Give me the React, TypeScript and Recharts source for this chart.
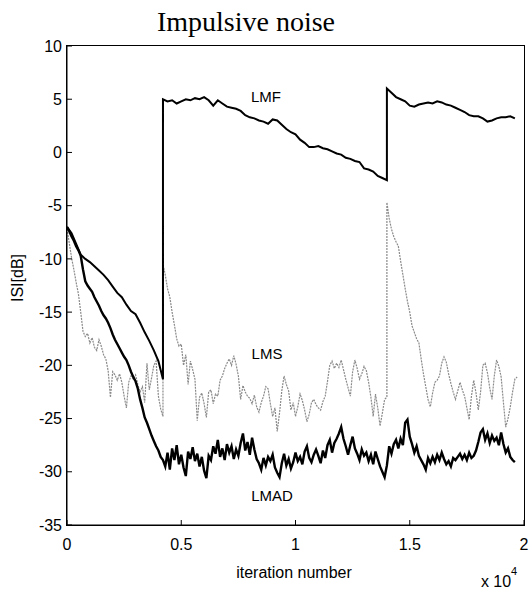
import React from 'react';
import { LineChart, Line, XAxis, YAxis } from 'recharts';

const X_TICKS = [0, 0.5, 1, 1.5, 2];
const Y_TICKS = [-35, -30, -25, -20, -15, -10, -5, 0, 5, 10];

// iteration axis is in units of 10^4

// LMF, one value every 0.02
const LMF_FIRST = [
  -7.0, -7.6, -8.6, -9.6, -10.0, -10.3, -10.7, -11.1, -11.5, -12.0,
  -12.6, -13.2, -13.6, -14.3, -14.9, -15.2, -16.0, -16.9, -17.7, -18.6,
  -19.6, -21.3,
]; // 0 .. 0.42
const LMF_SECOND = [
  5.0, 4.8, 4.9, 4.6, 4.8, 5.0, 4.9, 5.1, 5.0, 5.2,
  4.9, 4.4, 4.9, 4.6, 4.3, 4.2, 4.1, 3.9, 3.5, 3.3,
  3.2, 3.0, 2.9, 2.7, 3.1, 3.0, 2.6, 2.2, 1.9, 1.7,
  1.2, 0.9, 0.5, 0.5, 0.6, 0.4, 0.3, 0.1, -0.1, -0.2,
  -0.5, -0.6, -0.8, -0.9, -1.5, -1.6, -1.8, -2.2, -2.4, -2.6,
]; // 0.42 .. 1.40
const LMF_THIRD = [
  6.0, 5.6, 5.2, 5.0, 4.8, 4.4, 4.3, 4.5, 4.6, 4.7,
  4.6, 4.8, 4.7, 4.5, 4.4, 4.2, 4.0, 3.8, 3.5, 3.4,
  3.4, 3.2, 2.9, 3.0, 3.2, 3.3, 3.3, 3.4, 3.2,
]; // 1.40 .. 1.96

// LMS, one value every 0.01
const LMS_FIRST = [
  -7.2, -8.5, -9.9, -11.0, -12.2, -13.3, -15.0, -16.8, -17.3, -17.0,
  -17.9, -17.4, -18.3, -18.6, -17.6, -18.2, -19.0, -19.4, -20.5, -23.0,
  -20.6, -20.9, -21.4, -20.8, -21.6, -22.9, -24.0, -21.6, -21.0, -21.3,
  -20.9, -21.8, -22.5, -22.0, -23.5, -19.8, -22.3, -21.2, -20.0, -19.6,
  -22.9, -24.1, -24.8,
]; // 0 .. 0.42
const LMS_SECOND = [
  -10.5,
  -11.5, -12.8, -13.6, -15.0, -16.2, -17.5, -18.2,
  -18.0, -20.0, -19.0, -21.8, -19.6, -20.4, -21.3, -25.2, -23.0, -22.6,
  -23.6, -24.9, -22.5, -22.3, -23.6, -22.7, -22.9, -21.4, -21.0, -20.3,
  -19.8, -19.4, -20.0, -19.1, -19.9, -21.0, -23.2, -21.9, -22.5, -22.9,
  -23.1, -23.6, -22.8, -23.9, -24.4, -23.5, -22.9, -22.0, -22.2, -23.6,
  -24.8, -24.0, -26.2, -24.5, -22.4, -21.0, -21.8, -22.4, -24.2, -23.5,
  -24.8, -23.9, -22.7, -23.3, -24.2, -25.3, -24.6, -23.5, -23.2, -23.7,
  -24.0, -24.2, -23.4, -22.9, -21.5, -20.0, -19.6, -20.3, -19.8, -20.2,
  -19.5, -20.4, -21.3, -22.1, -22.9, -20.6, -19.5, -20.3, -21.3, -20.8,
  -20.1, -20.5, -21.6, -23.0, -24.8, -22.7, -24.0, -25.7, -24.5, -23.2,
  -23.0,
]; // 0.42 .. 1.40
const LMS_THIRD = [
  -4.7,
  -6.2, -7.2, -7.9, -8.4, -8.8, -10.2, -11.5, -12.8, -14.0,
  -15.0, -16.3, -16.9, -17.5, -17.9, -19.4, -20.8, -22.0, -23.2, -23.9,
  -22.6, -21.6, -21.4, -21.0, -19.8, -19.2, -19.7, -20.8, -21.7, -22.5,
  -23.2, -22.4, -21.6, -22.3, -22.9, -24.0, -25.1, -22.9, -21.4, -22.6,
  -24.2, -22.5, -20.0, -19.8, -20.7, -22.1, -23.2, -21.0, -19.5, -20.1,
  -21.1, -23.5, -25.8, -25.0, -23.9, -22.5, -21.3, -21.1,
]; // 1.40 .. 1.97

// LMAD, one value every 0.01 from 0
const LMAD = [
  -7.0, -7.4, -7.9, -8.3, -8.8, -9.2, -9.7, -11.0, -12.1, -12.5,
  -12.8, -13.1, -13.6, -14.0, -14.4, -14.9, -15.3, -15.6, -16.0, -16.5,
  -17.1, -17.6, -18.0, -18.4, -18.8, -19.2, -19.5, -20.0, -20.6, -21.1,
  -21.5, -22.2, -23.2, -24.0, -24.9, -25.4, -26.0, -26.6, -27.1, -27.6,
  -28.0, -28.6, -28.9, -29.5, -28.2, -29.8, -27.8, -28.9, -27.5, -29.3,
  -28.4, -29.6, -30.4, -28.1, -28.8, -27.7, -29.0, -28.3, -29.5, -28.6,
  -29.9, -30.6, -28.5, -28.9, -27.6, -28.3, -27.0, -28.6, -27.8, -28.9,
  -27.4, -28.2, -27.6, -28.8, -27.9, -28.5, -27.3, -26.4, -28.0, -27.2,
  -28.4, -26.8, -27.9, -28.8, -29.2, -29.8, -28.7, -29.4, -28.6, -29.0,
  -28.4, -29.6, -30.1, -30.5, -29.2, -28.3, -29.4, -28.8, -29.7, -29.1,
  -28.2, -29.0, -28.6, -29.3, -28.1, -27.6, -28.7, -29.1, -28.4, -27.9,
  -28.5, -29.2, -28.0, -28.7, -27.5, -27.0, -28.2, -27.3, -26.9, -26.4,
  -25.8, -26.9, -27.6, -28.4, -27.5, -26.7, -27.8, -28.3, -28.9, -27.9,
  -28.5, -28.2, -29.0, -28.4, -29.3, -28.1, -28.8, -29.5, -30.0, -30.5,
  -29.4, -27.6, -28.3, -27.4, -27.0, -27.8, -26.9, -27.5, -25.4, -25.1,
  -26.7, -27.4, -28.2, -27.6, -28.5, -28.9, -29.3, -29.8, -28.7, -29.2,
  -28.6, -29.1, -28.4, -28.9, -28.2, -28.8, -29.3, -29.0, -29.5, -28.7,
  -28.9, -28.6, -28.3, -28.8, -28.4, -28.9, -28.2, -28.7, -28.5, -28.0,
  -27.2, -26.3, -26.0, -27.0, -26.4, -27.3, -26.6, -27.1, -26.8, -27.5,
  -26.3, -27.4, -28.2, -27.8, -28.6, -28.9, -29.1,
];

const seg = (x0: number, step: number, ys: number[]) =>
  ys.map((y, i) => ({ x: Math.round((x0 + i * step) * 1000) / 1000, y }));

const lmfData = [...seg(0, 0.02, LMF_FIRST), ...seg(0.42, 0.02, LMF_SECOND), ...seg(1.4, 0.02, LMF_THIRD)];
const lmsData = [...seg(0, 0.01, LMS_FIRST), ...seg(0.42, 0.01, LMS_SECOND), ...seg(1.4, 0.01, LMS_THIRD)];
const lmadData = seg(0, 0.01, LMAD);

const SANS = '"Liberation Sans", Arial, sans-serif';

// plot box (matches the chart margins below)
const BOX = { left: 67, top: 46, right: 524, bottom: 525 };

const Txt = ({ x, y, size = 16, rotate = 0, font = SANS, children }: any) => (
  <div
    style={{
      position: 'absolute',
      left: x,
      top: y,
      transform: `translate(-50%, -50%) rotate(${rotate}deg)`,
      fontFamily: font,
      fontSize: size,
      whiteSpace: 'nowrap',
      color: '#000',
      lineHeight: 1,
    }}
  >
    {children}
  </div>
);

const tickStyle = { fill: '#000', fontSize: 16, fontFamily: SANS };

export default function App() {
  return (
    <div style={{ position: 'absolute', left: 0, top: 0, width: 531, height: 591, background: '#fff' }}>
      <LineChart
        width={531}
        height={591}
        margin={{ top: BOX.top, right: 531 - BOX.right, bottom: 591 - BOX.bottom - 30, left: BOX.left - 40 }}
      >
        <XAxis
          dataKey="x"
          type="number"
          domain={[0, 2]}
          ticks={X_TICKS}
          height={30}
          stroke="#000"
          tickSize={-5}
          tickMargin={19}
          tick={tickStyle}
          allowDataOverflow
        />
        <YAxis
          type="number"
          domain={[-35, 10]}
          ticks={Y_TICKS}
          width={40}
          stroke="#000"
          tickSize={-5}
          tickMargin={10}
          tick={tickStyle}
          interval={0}
          allowDataOverflow
        />
        <Line
          data={lmsData}
          dataKey="y"
          type="linear"
          stroke="#8a8a8a"
          strokeWidth={1.2}
          strokeDasharray="2 1"
          dot={false}
          isAnimationActive={false}
        />
        <Line
          data={lmadData}
          dataKey="y"
          type="linear"
          stroke="#000"
          strokeWidth={2.4}
          dot={false}
          isAnimationActive={false}
        />
        <Line
          data={lmfData}
          dataKey="y"
          type="linear"
          stroke="#000"
          strokeWidth={2}
          dot={false}
          isAnimationActive={false}
        />
      </LineChart>

      {/* matlab-style box around the plot area */}
      <div
        style={{
          position: 'absolute',
          left: BOX.left - 1,
          top: BOX.top - 1,
          width: BOX.right - BOX.left + 2,
          height: BOX.bottom - BOX.top + 2,
          border: '1.5px solid #000',
          boxSizing: 'border-box',
          pointerEvents: 'none',
          zIndex: 5,
        }}
      />

      <Txt x={246} y={22} size={28} font='"Liberation Serif", "Times New Roman", serif'>Impulsive noise</Txt>
      <Txt x={18} y={278} rotate={-90}>ISI[dB]</Txt>
      <Txt x={294} y={573}>iteration number</Txt>
      <Txt x={496} y={582}>x 10</Txt>
      <Txt x={514} y={571} size={11}>4</Txt>
      <Txt x={266} y={96} size={15}>LMF</Txt>
      <Txt x={267} y={353} size={15}>LMS</Txt>
      <Txt x={272} y={495} size={15}>LMAD</Txt>
    </div>
  );
}
